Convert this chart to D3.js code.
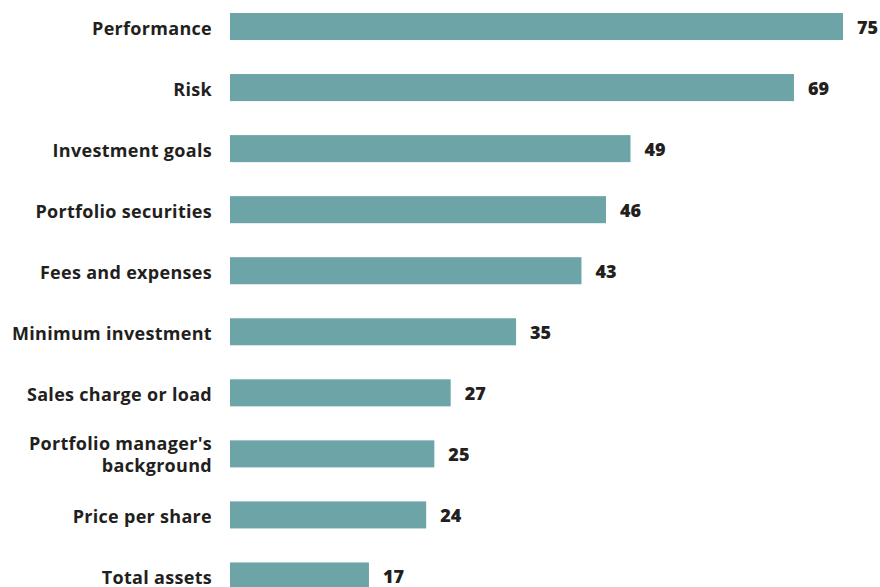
<!DOCTYPE html>
<html>
<head>
<meta charset="utf-8">
<script src="https://cdn.jsdelivr.net/npm/d3@7"></script>
<style>
  body { margin: 0; background: #fff; }
  .label { font-family: "Open Sans", Lato, sans-serif; font-weight: 700; font-size: 18px; letter-spacing: 0.3px; fill: #231f20; }
  .value { font-family: "Open Sans", Lato, sans-serif; font-weight: 800; font-size: 18px; fill: #231f20; }
  .bar { fill: #6ca4a8; }
</style>
</head>
<body>
<script>
const categories = [
  "Performance",
  "Risk",
  "Investment goals",
  "Portfolio securities",
  "Fees and expenses",
  "Minimum investment",
  "Sales charge or load",
  "Portfolio manager's background",
  "Price per share",
  "Total assets"
];
const values = [75, 69, 49, 46, 43, 35, 27, 25, 24, 17];
// labels that wrap onto two lines
const labelLines = {
  "Portfolio manager's background": ["Portfolio manager's", "background"]
};

const width = 880, height = 587;
const margin = { top: 13, left: 230 };

const svg = d3.select("body").append("svg")
  .attr("width", width)
  .attr("height", height);

const x = d3.scaleLinear().domain([0, 75]).range([margin.left, 843]);
const y = d3.scaleBand()
  .domain(categories)
  .range([margin.top, margin.top + 61.05 * categories.length - 34])
  .paddingInner(0.557)
  .paddingOuter(0);

const data = categories.map((c, i) => ({ cat: c, val: values[i] }));

svg.selectAll(".bar")
  .data(data)
  .enter().append("rect")
  .attr("class", "bar")
  .attr("x", x(0))
  .attr("y", d => y(d.cat))
  .attr("width", d => x(d.val) - x(0))
  .attr("height", y.bandwidth());

// category labels
const labels = svg.selectAll(".label")
  .data(data)
  .enter().append("text")
  .attr("class", "label")
  .attr("text-anchor", "end")
  .attr("x", 212)
  .attr("y", d => y(d.cat) + y.bandwidth() / 2);

labels.each(function(d) {
  const t = d3.select(this);
  const lines = labelLines[d.cat] || [d.cat];
  const lh = 22;
  const first = lines.length > 1 ? -4 : 8.5;
  lines.forEach((ln, i) => {
    t.append("tspan")
      .attr("x", 212)
      .attr("dy", i === 0 ? first : lh)
      .text(ln);
  });
});

// value labels
svg.selectAll(".value")
  .data(data)
  .enter().append("text")
  .attr("class", "value")
  .attr("x", d => x(d.val) + 14)
  .attr("y", d => y(d.cat) + y.bandwidth() / 2 + 7.5)
  .text(d => d.val);
</script>
</body>
</html>
